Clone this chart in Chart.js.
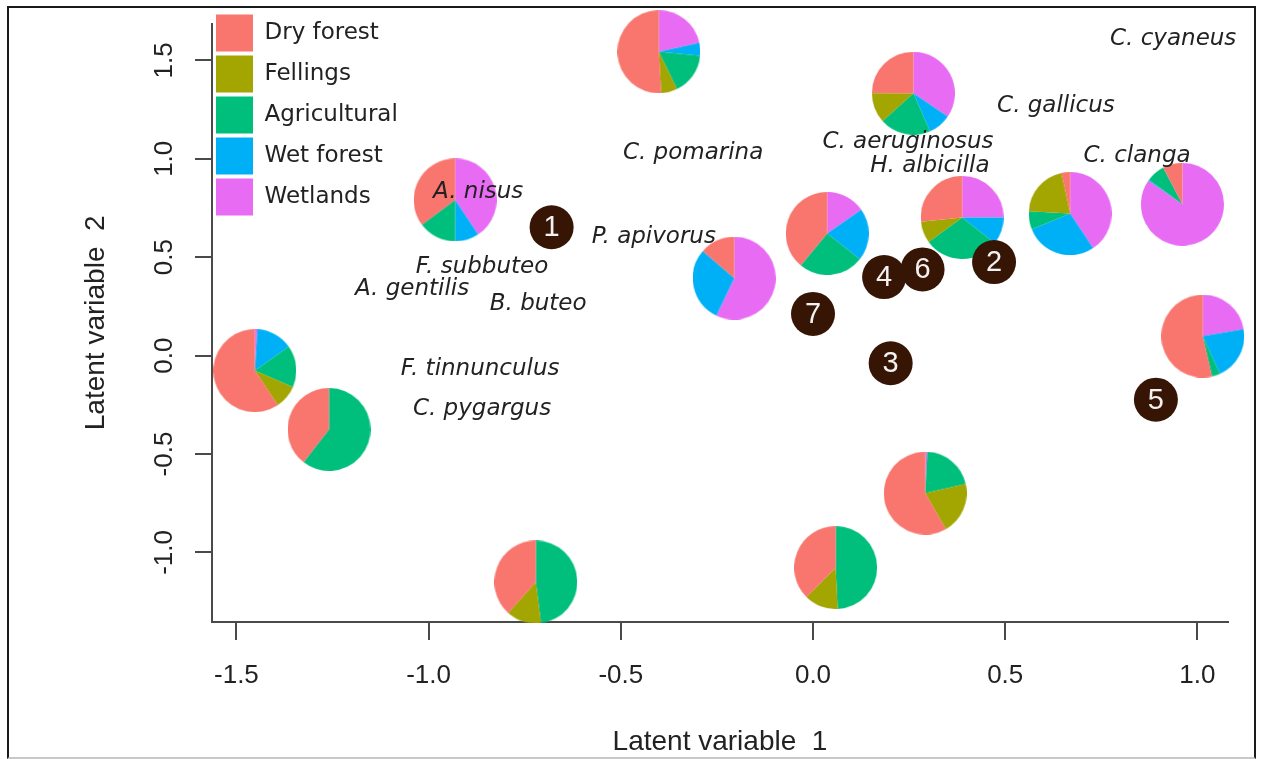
<!DOCTYPE html>
<html>
<head>
<meta charset="utf-8">
<script src="https://cdn.jsdelivr.net/npm/chart.js@4.4.1/dist/chart.umd.min.js"></script>
<style>
  html, body { margin: 0; padding: 0; background: #fff; }
  #wrap { position: relative; width: 1261px; height: 759px; }
  #frame { position: absolute; left: 7px; top: 6px; width: 1249px; height: 753px; box-sizing: border-box;
           border: 2px solid #1a1a1a; border-bottom-color: #c8c8c8; pointer-events: none; }
</style>
</head>
<body>
<div id="wrap">
  <canvas id="chart" width="1261" height="759"></canvas>
  <div id="frame"></div>
</div>
<script>
// habitat categories, in legend order
const categories = ["Dry forest", "Fellings", "Agricultural", "Wet forest", "Wetlands"];
const catColors = ["#F8766D", "#A3A500", "#00BF7D", "#00B0F6", "#E76BF3"];

// pie centres (latent variable 1 / 2)
const pieX = [-0.401, 0.261, -0.931, 0.037, 0.388, 0.669, 0.961, -0.205, 1.014, -1.452, -1.259, 0.292, -0.721, 0.059];
const pieY = [1.544, 1.333, 0.791, 0.621, 0.702, 0.722, 0.769, 0.394, 0.099, -0.076, -0.375, -0.699, -1.150, -1.077];

// habitat shares of each pie
const dryForest    = [0.509, 0.250, 0.352, 0.390, 0.266, 0.034, 0.077, 0.137, 0.532, 0.594, 0.395, 0.583, 0.384, 0.376];
const fellings     = [0.063, 0.118, 0.000, 0.000, 0.084, 0.207, 0.000, 0.000, 0.000, 0.092, 0.000, 0.203, 0.136, 0.132];
const agricultural = [0.163, 0.200, 0.148, 0.254, 0.294, 0.071, 0.072, 0.000, 0.032, 0.163, 0.605, 0.206, 0.480, 0.492];
const wetForest    = [0.050, 0.090, 0.093, 0.203, 0.106, 0.281, 0.004, 0.292, 0.208, 0.142, 0.000, 0.000, 0.000, 0.000];
const wetlands     = [0.215, 0.346, 0.407, 0.153, 0.250, 0.407, 0.847, 0.571, 0.221, 0.010, 0.000, 0.008, 0.000, 0.000];

// numbered sites
const circleNums = ["1", "2", "3", "4", "5", "6", "7"];
const circleX = [-0.680, 0.471, 0.202, 0.185, 0.892, 0.285, 0.000];
const circleY = [0.652, 0.475, -0.039, 0.399, -0.224, 0.438, 0.212];

// species names
const speciesNames = ["C. cyaneus", "C. gallicus", "C. aeruginosus", "H. albicilla", "C. clanga", "C. pomarina",
  "A. nisus", "P. apivorus", "F. subbuteo", "A. gentilis", "B. buteo", "F. tinnunculus", "C. pygargus"];
const speciesX = [0.937, 0.632, 0.247, 0.304, 0.843, -0.312, -0.871, -0.414, -0.861, -1.043, -0.715, -0.866, -0.861];
const speciesY = [1.606, 1.268, 1.086, 0.965, 1.015, 1.030, 0.833, 0.601, 0.449, 0.338, 0.263, -0.066, -0.273];

// axes
const xTicks = [-1.5, -1.0, -0.5, 0.0, 0.5, 1.0];
const yTicks = [-1.0, -0.5, 0.0, 0.5, 1.0, 1.5];
const xMin = -1.5635, xMax = 1.0796;
const yMin = -1.3535, yMax = 1.6869;

const shares = [dryForest, fellings, agricultural, wetForest, wetlands];

// one small Chart.js pie per site, used as the point image
// (R draws counter-clockwise from 12 o'clock, Chart.js clockwise -> reversed order)
const pieImages = pieX.map((_, i) => {
    const c = document.createElement("canvas");
    c.width = 83;
    c.height = 83;
    new Chart(c, {
        type: "pie",
        data: {
            labels: categories.slice().reverse(),
            datasets: [{
                data: shares.map(s => s[i]).reverse(),
                backgroundColor: catColors.slice().reverse(),
                borderWidth: 0
            }]
        },
        options: {
            responsive: false,
            animation: false,
            devicePixelRatio: 1,
            events: [],
            layout: { padding: 0 },
            plugins: { legend: { display: false }, tooltip: { enabled: false } }
        }
    });
    return c;
});

const textLabels = {
    id: "textLabels",
    afterDatasetsDraw(chart) {
        const ctx = chart.ctx;
        ctx.save();
        ctx.textAlign = "center";
        ctx.textBaseline = "middle";
        ctx.font = '29px "Liberation Sans", Arial, sans-serif';
        ctx.fillStyle = "#f2f2f2";
        chart.getDatasetMeta(1).data.forEach((pt, i) => ctx.fillText(circleNums[i], pt.x, pt.y + 1));
        ctx.font = 'italic 23px "DejaVu Sans", sans-serif';
        ctx.fillStyle = "#222";
        chart.getDatasetMeta(2).data.forEach((pt, i) => ctx.fillText(speciesNames[i], pt.x, pt.y));
        ctx.restore();
    }
};

// legend sits a little above the plot region, like the R original
const legendNudge = {
    id: "legendNudge",
    beforeDraw(chart) {
        const lg = chart.legend;
        const h = lg.bottom - lg.top;
        lg.top = chart.chartArea.top - 13;
        lg.bottom = lg.top + h;
    }
};

const tickFont = { family: "Liberation Sans", size: 26 };
const titleFont = { family: "Liberation Sans", size: 28 };

new Chart(document.getElementById("chart"), {
    type: "scatter",
    data: {
        datasets: [
            {
                label: "pies",
                data: pieX.map((x, i) => ({ x, y: pieY[i] })),
                pointStyle: pieImages,
                pointRadius: 41,
                order: 2
            },
            {
                label: "sites",
                data: circleX.map((x, i) => ({ x, y: circleY[i] })),
                pointStyle: "circle",
                pointRadius: 22,
                backgroundColor: "#361505",
                borderWidth: 0,
                order: 1
            },
            {
                label: "species",
                data: speciesX.map((x, i) => ({ x, y: speciesY[i] })),
                pointRadius: 0,
                order: 0
            }
        ]
    },
    options: {
        responsive: false,
        animation: false,
        events: [],
        clip: false,
        layout: { autoPadding: false, padding: { top: 20, right: 33, left: 0, bottom: 0 } },
        plugins: {
            tooltip: { enabled: false },
            legend: {
                position: "chartArea",
                align: "start",
                labels: {
                    boxWidth: 37,
                    boxHeight: 37,
                    padding: 4,
                    color: "#222",
                    font: { family: "DejaVu Sans", size: 23 },
                    generateLabels: () => categories.map((t, i) => ({
                        text: t, fillStyle: catColors[i], strokeStyle: catColors[i],
                        lineWidth: 0, hidden: false, index: i, fontColor: "#222"
                    }))
                }
            }
        },
        scales: {
            x: {
                type: "linear",
                min: xMin,
                max: xMax,
                afterBuildTicks: s => { s.ticks = xTicks.map(v => ({ value: v })); },
                afterFit: s => { s.height = 137; },
                ticks: { callback: v => v.toFixed(1), font: tickFont, color: "#222", padding: 20, maxRotation: 0 },
                grid: { drawOnChartArea: false, drawTicks: true, tickLength: 18, color: "#4a4a4a", lineWidth: 2 },
                border: { display: true, color: "#4a4a4a", width: 2 },
                title: { display: true, text: "Latent variable  1", font: titleFont, color: "#222", padding: { top: 0, bottom: 0 } }
            },
            y: {
                type: "linear",
                min: yMin,
                max: yMax,
                afterBuildTicks: s => { s.ticks = yTicks.map(v => ({ value: v })); },
                afterFit: s => { s.width = 212; },
                ticks: { callback: v => v.toFixed(1), font: tickFont, color: "#222", padding: 8,
                         minRotation: 90, maxRotation: 90, crossAlign: "center" },
                grid: { drawOnChartArea: false, drawTicks: true, tickLength: 17, color: "#4a4a4a", lineWidth: 2 },
                border: { display: true, color: "#4a4a4a", width: 2 },
                title: { display: true, text: "Latent variable  2", font: titleFont, color: "#222", padding: { top: 79, bottom: 0 } }
            }
        }
    },
    plugins: [legendNudge, textLabels]
});
</script>
</body>
</html>
